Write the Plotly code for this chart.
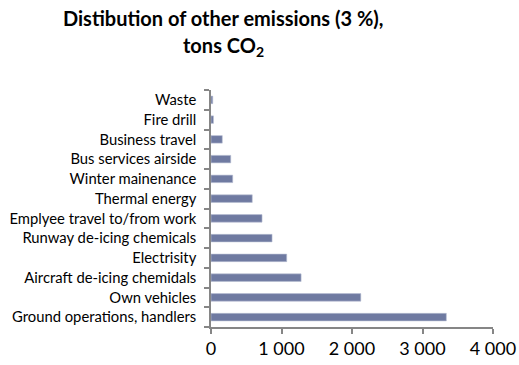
import plotly.graph_objects as go

categories = [
    "Ground operations, handlers",
    "Own vehicles",
    "Aircraft de-icing chemidals",
    "Electrisity",
    "Runway de-icing chemicals",
    "Emplyee travel to/from work",
    "Thermal energy",
    "Winter mainenance",
    "Bus services airside",
    "Business travel",
    "Fire drill",
    "Waste",
]
values = [3338, 2125, 1278, 1074, 866, 724, 585, 308, 280, 160, 35, 25]
x_ticks = [0, 1000, 2000, 3000, 4000]
x_tick_labels = ["0", "1 000", "2 000", "3 000", "4 000"]
title_lines = ["Distibution of other emissions (3 %),", "tons CO<sub>2</sub>"]

fig = go.Figure(
    go.Bar(
        x=values,
        y=categories,
        orientation="h",
        marker=dict(color="#6F7AA1", line=dict(color="#B9BFD4", width=0.6)),
    )
)

fig.update_layout(
    width=519,
    height=365,
    margin=dict(l=211, r=26, t=90, b=38),
    paper_bgcolor="white",
    plot_bgcolor="white",
    bargap=0.62,
    showlegend=False,
    font=dict(family="Lato", color="black"),
)

fig.add_annotation(
    text="<b>" + title_lines[0] + "</b>",
    xref="paper", yref="paper",
    x=(223 - 211) / 282, y=1 + (90 - 18) / 237,
    xanchor="center", yanchor="middle",
    showarrow=False,
    font=dict(size=20, family="Lato", color="black"),
)
fig.add_annotation(
    text="<b>" + title_lines[1] + "</b>",
    xref="paper", yref="paper",
    x=(223 - 211) / 282, y=1 + (90 - 46) / 237,
    xanchor="center", yanchor="middle",
    showarrow=False,
    font=dict(size=20, family="Lato", color="black"),
)

fig.update_xaxes(
    range=[0, 4000],
    tickvals=x_ticks,
    ticktext=x_tick_labels,
    automargin=False,
    showgrid=False,
    zeroline=False,
    showline=True,
    linecolor="#868686",
    linewidth=1.5,
    ticks="outside",
    ticklen=5,
    tickcolor="#868686",
    tickwidth=1.5,
    tickfont=dict(size=18, color="black"),
)

fig.update_yaxes(
    type="category",
    categoryorder="array",
    categoryarray=categories,
    range=[-0.5, len(categories) - 0.5],
    tickson="boundaries",
    automargin=False,
    showgrid=False,
    zeroline=False,
    showline=True,
    linecolor="#868686",
    linewidth=1.5,
    ticks="outside",
    ticklen=5,
    tickcolor="#868686",
    tickwidth=1.5,
    ticklabelstandoff=10,
    tickfont=dict(size=14.8, color="black"),
)

fig.write_html("out.html")
